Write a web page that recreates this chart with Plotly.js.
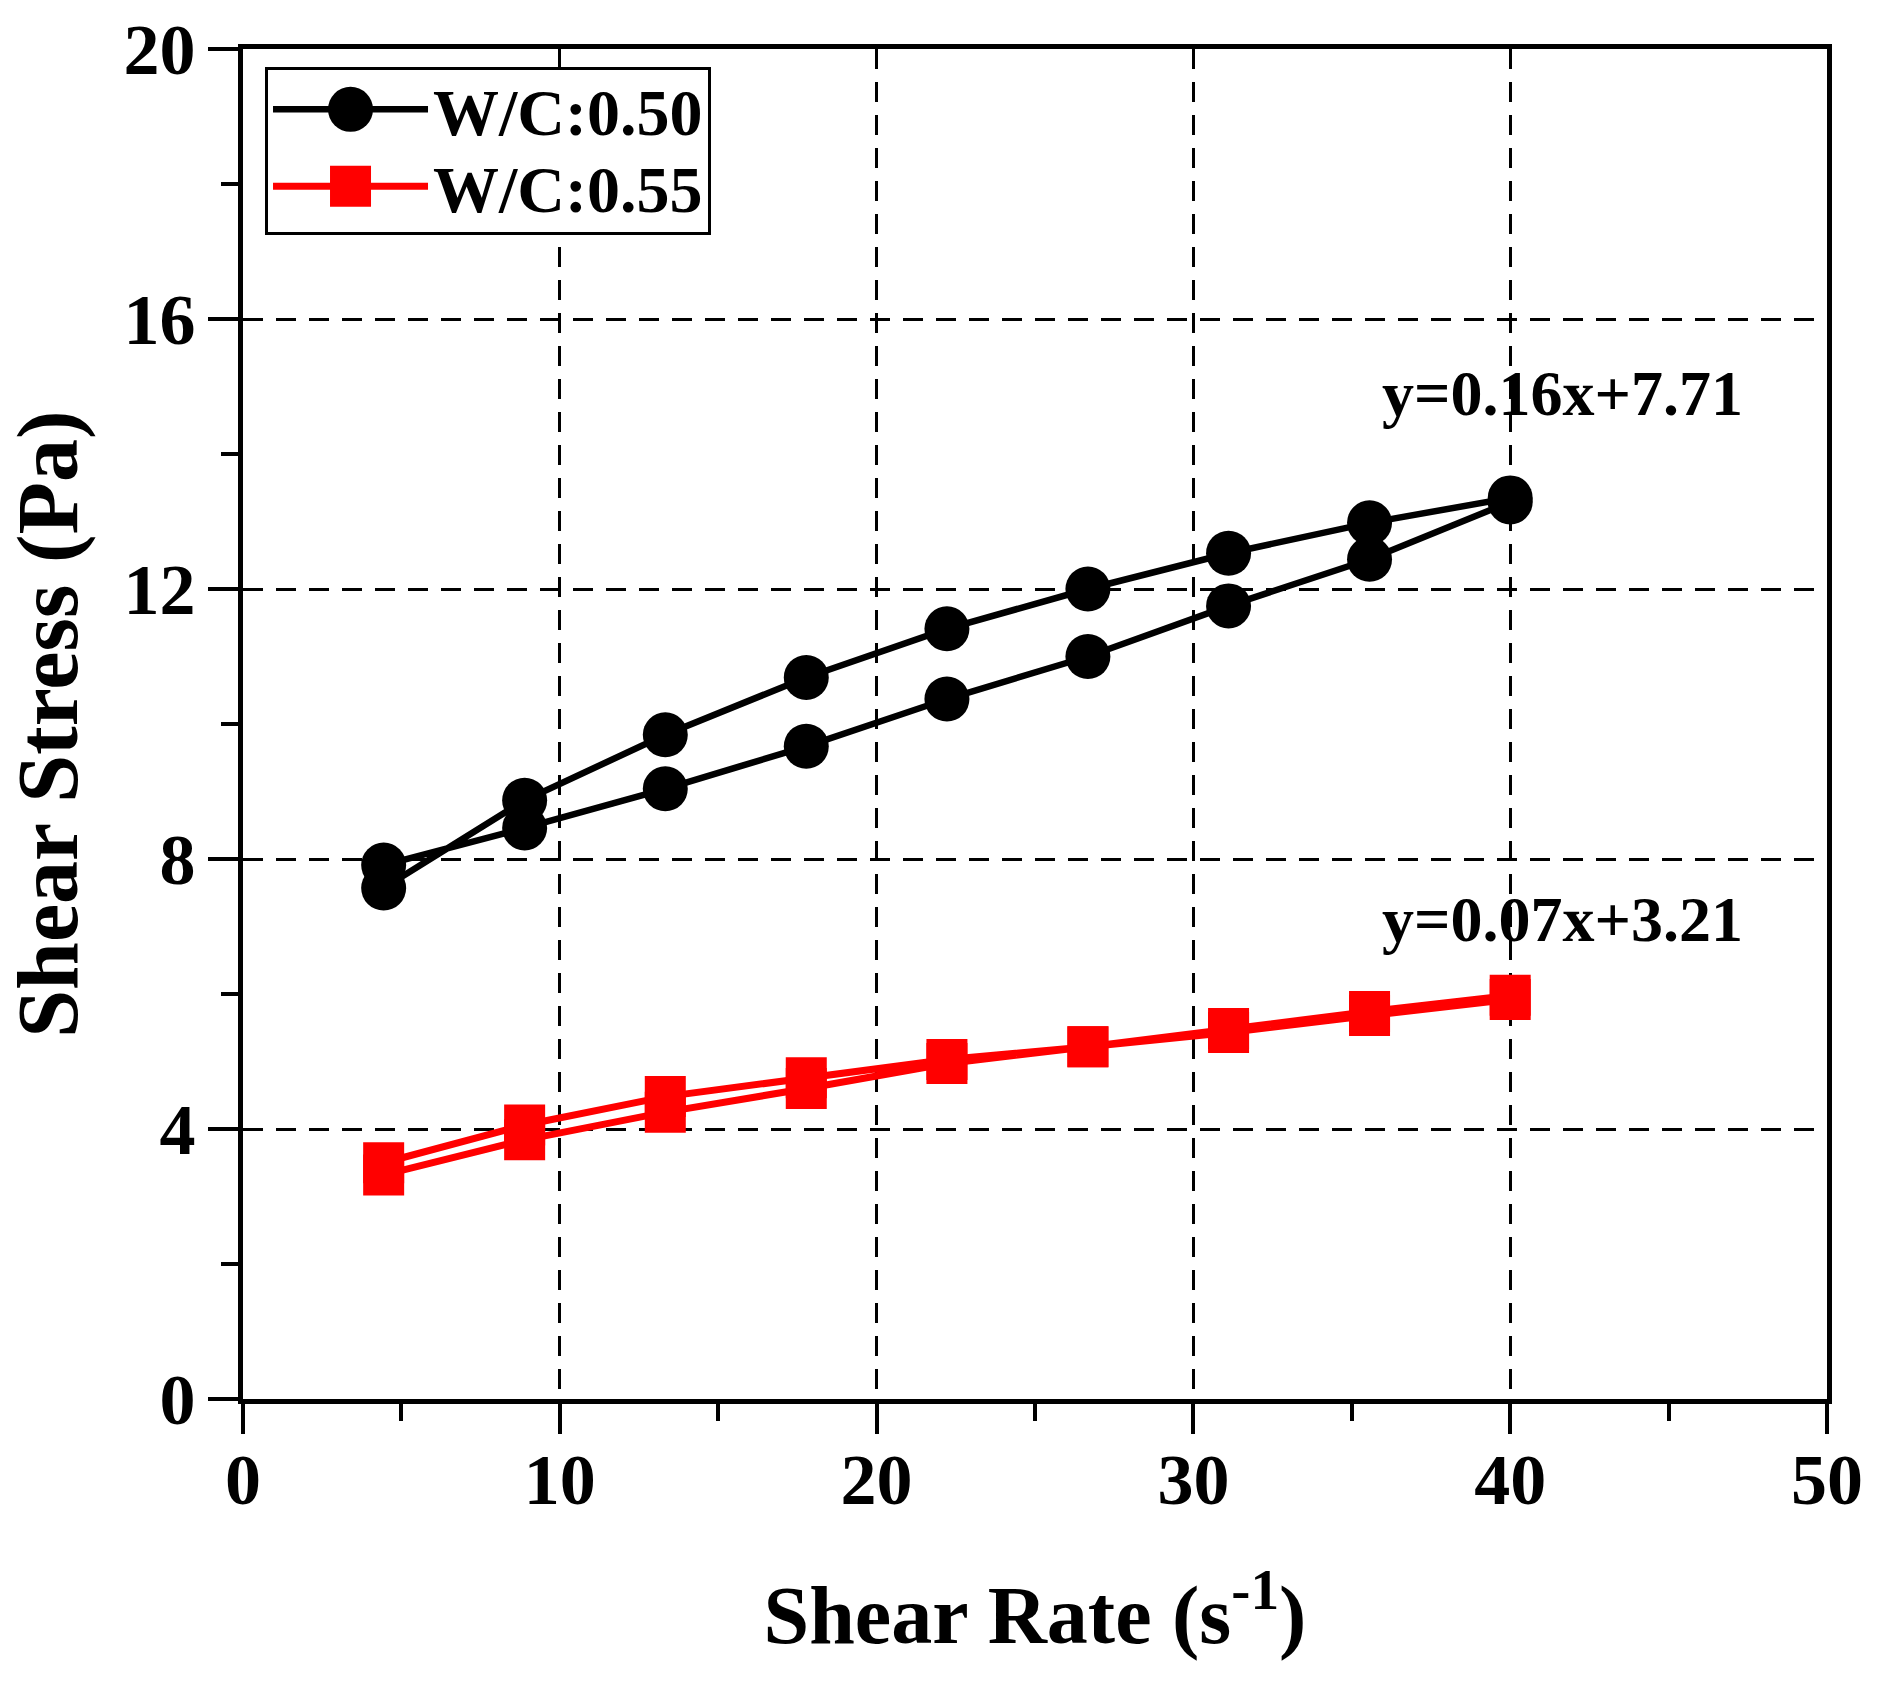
<!DOCTYPE html>
<html>
<head>
<meta charset="utf-8">
<script src="https://cdn.plot.ly/plotly-3.0.1.min.js"></script>
<style>html,body{margin:0;padding:0;background:#fff;}#chart{width:1880px;height:1693px;}</style>
</head>
<body>
<div id="chart"></div>
<script>
// ---- data ----
const shearRate = [4.44, 8.89, 13.33, 17.78, 22.22, 26.67, 31.11, 35.56, 40];
const wc050CurveA = [7.57, 8.87, 9.84, 10.69, 11.41, 12.00, 12.53, 12.98, 13.35];
const wc050CurveB = [7.91, 8.46, 9.04, 9.67, 10.37, 11.00, 11.75, 12.44, 13.29];
const wc055CurveA = [3.50, 4.06, 4.48, 4.76, 5.03, 5.22, 5.49, 5.74, 5.98];
const wc055CurveB = [3.32, 3.84, 4.25, 4.60, 4.97, 5.22, 5.43, 5.68, 5.92];
const seriesNames = ["W/C:0.50", "W/C:0.55"];
const fitLabels = ["y=0.16x+7.71", "y=0.07x+3.21"];
const fitLabelPos = [[35.9, 14.89], [35.9, 7.11]];
const xTickVals = [0, 10, 20, 30, 40, 50];
const yTickVals = [0, 4, 8, 12, 16, 20];

// loop: curve A outward, curve B back
const loopX = shearRate.concat(shearRate.slice().reverse());
const loopBlack = wc050CurveA.concat(wc050CurveB.slice().reverse());
const loopRed = wc055CurveA.concat(wc055CurveB.slice().reverse());

const FONT = "Liberation Serif, Times New Roman, serif";
const CIRCLE_SIZE = 45, SQUARE_SIZE = 41;

const traces = [
  {x: loopX, y: loopBlack, name: seriesNames[0], type: "scatter", mode: "lines+markers",
   line: {color: "#000000", width: 6.5},
   marker: {symbol: "circle", size: CIRCLE_SIZE, color: "#000000"}},
  {x: loopX, y: loopRed, name: seriesNames[1], type: "scatter", mode: "lines+markers",
   line: {color: "#ff0000", width: 7},
   marker: {symbol: "square", size: SQUARE_SIZE, color: "#ff0000"}}
];

const axisCommon = {
  showline: true, linewidth: 5, linecolor: "#000", mirror: true,
  ticks: "outside", ticklen: 30, tickwidth: 4, tickcolor: "#000",
  showgrid: true, gridcolor: "#000", gridwidth: 3, griddash: "20px,13px",
  zeroline: false,
  tickfont: {family: FONT, size: 72, color: "#000", weight: "bold"}
};

const layout = {
  width: 1880, height: 1693,
  paper_bgcolor: "#fff", plot_bgcolor: "#fff",
  margin: {l: 243, r: 53, t: 49, b: 294},
  showlegend: true,
  legend: {x: 0.0139, y: 0.9867, xanchor: "left", yanchor: "top",
    bordercolor: "#000", borderwidth: 3, bgcolor: "#fff",
    itemwidth: 155,
    font: {family: FONT, size: 66, color: "#000", weight: "bold"}},
  xaxis: Object.assign({}, axisCommon, {
    range: [0, 50], tickvals: xTickVals, ticktext: xTickVals.map(String),
    minor: {dtick: 5, ticks: "outside", ticklen: 17, tickwidth: 4, tickcolor: "#000", showgrid: false},
    ticklabelstandoff: -16,
    title: {text: "Shear Rate (s<sup>-1</sup>)", standoff: 68,
      font: {family: FONT, size: 82, color: "#000", weight: "bold"}}
  }),
  yaxis: Object.assign({}, axisCommon, {
    range: [0, 20], tickvals: yTickVals, ticktext: yTickVals.map(String),
    minor: {dtick: 2, ticks: "outside", ticklen: 17, tickwidth: 4, tickcolor: "#000", showgrid: false},
    ticklabelstandoff: -2,
    title: {text: "Shear Stress (Pa)", standoff: 25,
      font: {family: FONT, size: 86, color: "#000", weight: "bold"}}
  }),
  annotations: fitLabels.map((t, i) => ({
    x: fitLabelPos[i][0], y: fitLabelPos[i][1], xref: "x", yref: "y",
    text: t, showarrow: false, xanchor: "left", yanchor: "middle",
    font: {family: FONT, size: 64, color: "#000", weight: "bold"}
  }))
};

Plotly.newPlot("chart", traces, layout, {displayModeBar: false, staticPlot: true}).then(function (gd) {
  // enlarge legend symbols to match the plotted marker size, tighten rows
  const sizes = [CIRCLE_SIZE, SQUARE_SIZE];
  const rowShift = [-10, -22];
  gd.querySelectorAll(".legend .traces").forEach(function (g, i) {
    g.querySelectorAll(".legendpoints path.scatterpts").forEach(function (p) {
      const tr = p.getAttribute("transform") || "";
      p.setAttribute("transform", tr + " scale(" + (sizes[i] / 16) + ")");
    });
    const m = /translate\(\s*([-\d.]+)[ ,]+([-\d.]+)\s*\)/.exec(g.getAttribute("transform") || "");
    if (m) g.setAttribute("transform", "translate(" + m[1] + "," + (parseFloat(m[2]) + (rowShift[i] || 0)) + ")");
  });
  const bg = gd.querySelector(".legend rect.bg");
  if (bg) bg.setAttribute("height", parseFloat(bg.getAttribute("height")) - 26);
});
</script>
</body>
</html>
